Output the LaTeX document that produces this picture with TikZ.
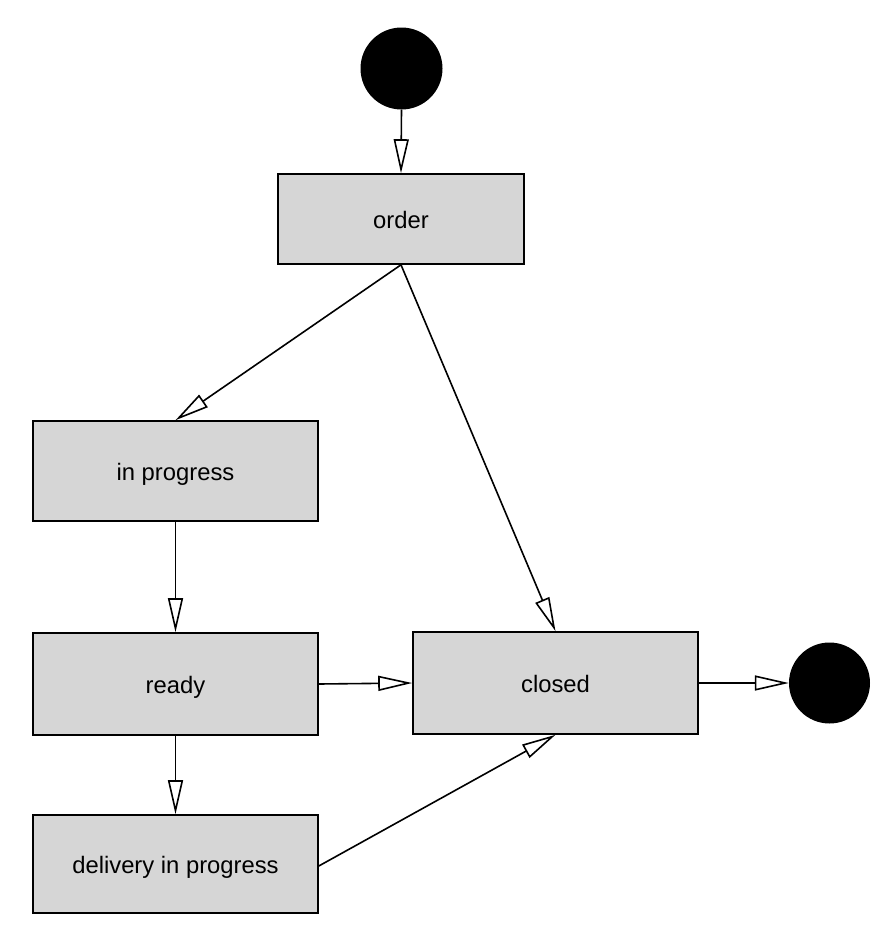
\documentclass[tikz,border=0pt]{standalone}
\usepackage{fontspec}
\setmainfont{Liberation Sans}
\usetikzlibrary{arrows.meta}
\definecolor{boxgray}{HTML}{D6D6D6}
\begin{document}
\begin{tikzpicture}[x=1pt,y=-1pt,
  state/.style={draw=black, line width=1.6pt, fill=boxgray, rectangle, inner sep=0pt,
    text height=18pt, text depth=0pt,
    font=\fontsize{23.8}{28}\selectfont},
  dot/.style={circle, fill=black, draw=none, inner sep=0pt},
  flow/.style={line width=1.6pt, -{Triangle[length=34pt,width=15pt,fill=white,line width=1.6pt]}}]
\useasboundingbox (0,0) rectangle (894,946);
\node[dot, minimum size=82pt] (start) at (401.5,68.5) {};
\node[state, minimum width=246pt, minimum height=90pt] (order) at (401,219) {order};
\node[state, minimum width=285pt, minimum height=100pt] (inprog) at (175.5,471) {in progress};
\node[state, minimum width=285pt, minimum height=102pt] (ready) at (175.5,684) {ready};
\node[state, minimum width=285pt, minimum height=102pt] (closed) at (555.5,683) {closed};
\node[state, minimum width=285pt, minimum height=98pt] (deliv) at (175.5,864) {delivery in progress};
\node[dot, minimum size=81pt] (end) at (829.5,683) {};
\draw[flow] (start.south) -- (order.north);
\draw[flow] (order.south) -- (inprog.north);
\draw[flow] (order.south) -- (closed.north);
\draw[flow] (inprog.south) -- (ready.north);
\draw[flow] (ready.east) -- (closed.west);
\draw[flow] (ready.south) -- (deliv.north);
\draw[flow] ([yshift=-2pt]deliv.east) -- (closed.south);
\draw[flow] (closed.east) -- (end.west);
\end{tikzpicture}
\end{document}
